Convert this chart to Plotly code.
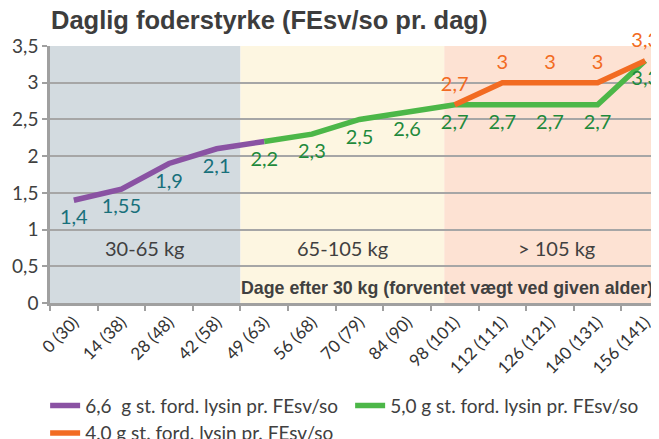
import plotly.graph_objects as go

categories = ["0 (30)", "14 (38)", "28 (48)", "42 (58)", "49 (63)", "56 (68)", "70 (79)",
              "84 (90)", "98 (101)", "112 (111)", "126 (121)", "140 (131)", "156 (141)"]
y_ticks = [0, 0.5, 1, 1.5, 2, 2.5, 3, 3.5]

purple_x = categories[0:5]
purple_y = [1.4, 1.55, 1.9, 2.1, 2.2]
purple_labels = ["1,4", "1,55", "1,9", "2,1", ""]

green_x = categories[4:13]
green_y = [2.2, 2.3, 2.5, 2.6, 2.7, 2.7, 2.7, 2.7, 3.3]

orange_x = categories[8:13]
orange_y = [2.7, 3, 3, 3, 3.3]

zones = [("30-65 kg", -0.5, 3.5, "#d3dbe0"),
         ("65-105 kg", 3.5, 7.78, "#fdf6e1"),
         ("> 105 kg", 7.78, 12.5, "#fde2d3")]

def fmt(v):
    return ("%g" % v).replace(".", ",")

FONT = "Lato"
TXT = "#404040"
HIDDEN = dict(size=13, color="rgba(0,0,0,0)")

fig = go.Figure()
fig.add_trace(go.Scatter(
    x=purple_x, y=purple_y, mode="lines+markers+text", name="6,6\u00a0 g st. ford. lysin pr. FEsv/so",
    line=dict(color="#8a52a3", width=5.5), marker=HIDDEN, text=purple_labels, textposition="bottom center",
    textfont=dict(family=FONT, size=20, color="#18707b"), cliponaxis=False))
fig.add_trace(go.Scatter(
    x=green_x, y=green_y, mode="lines+markers+text", name="5,0 g st. ford. lysin pr. FEsv/so",
    line=dict(color="#4cb748", width=5.5), marker=HIDDEN, text=[fmt(v) for v in green_y],
    textposition="bottom center",
    textfont=dict(family=FONT, size=20, color="#1f8a3c"), cliponaxis=False))
fig.add_trace(go.Scatter(
    x=orange_x, y=orange_y, mode="lines+markers+text", name="4,0 g st. ford. lysin pr. FEsv/so",
    line=dict(color="#f26b22", width=5.5), marker=HIDDEN, text=[fmt(v) for v in orange_y],
    textposition="top center",
    textfont=dict(family=FONT, size=20, color="#f26b22"), cliponaxis=False))

shapes = []
annotations = []
for label, x0, x1, col in zones:
    shapes.append(dict(type="rect", xref="x", yref="y", x0=x0, x1=x1, y0=0, y1=3.5,
                       fillcolor=col, line=dict(width=0), layer="below"))
    annotations.append(dict(x=(x0 + x1) / 2, y=0.75, xref="x", yref="y", text=label,
                            showarrow=False, font=dict(family=FONT, size=20, color=TXT)))
annotations.append(dict(x=(655 - 50) / 609, y=0.205, xref="paper", yref="y",
                        text="<b>Dage efter 30 kg (forventet vægt ved given alder)</b>",
                        showarrow=False, xanchor="right",
                        font=dict(family="Liberation Sans", size=17.8, color=TXT)))

# page body has an 8px margin: shift the figure geometry accordingly
fig.update_layout(
    width=659, height=439,
    margin=dict(l=42, r=8, t=38, b=144, autoexpand=False),
    paper_bgcolor="white", plot_bgcolor="white",
    separators=", ",
    title=dict(text="<b>Daglig foderstyrke (FEsv/so pr. dag)</b>", x=43 / 659, xanchor="left",
               y=1 - 12 / 439, yanchor="middle",
               font=dict(family="Liberation Sans", size=25.5, color="#3d3d3d")),
    shapes=shapes, annotations=annotations,
    showlegend=True,
    legend=dict(orientation="h", x=-0.008, xanchor="left", y=-0.325, yanchor="top",
                font=dict(family=FONT, size=19, color=TXT), itemwidth=30, tracegroupgap=0,
                entrywidth=260, entrywidthmode="pixels",
                bgcolor="rgba(0,0,0,0)"),
    xaxis=dict(type="category", categoryorder="array", categoryarray=categories,
               range=[-0.5, 12.29], tickson="boundaries", ticks="outside", ticklen=5,
               tickcolor="#a0a0a0", tickwidth=2, tickangle=-45, showline=True,
               linecolor="#a0a0a0", linewidth=2.5, showgrid=False, automargin=False,
               tickfont=dict(family=FONT, size=17, color="#333333")),
    yaxis=dict(range=[0, 3.5], tickvals=y_ticks, ticks="outside", ticklen=5, tickcolor="#a0a0a0",
               tickwidth=2, showline=True, linecolor="#a0a0a0", linewidth=2.5, automargin=False,
               showgrid=True, gridcolor="#a6a6a6", gridwidth=2, zeroline=False,
               tickfont=dict(family=FONT, size=19, color=TXT)),
)
fig.write_html("out.html")
